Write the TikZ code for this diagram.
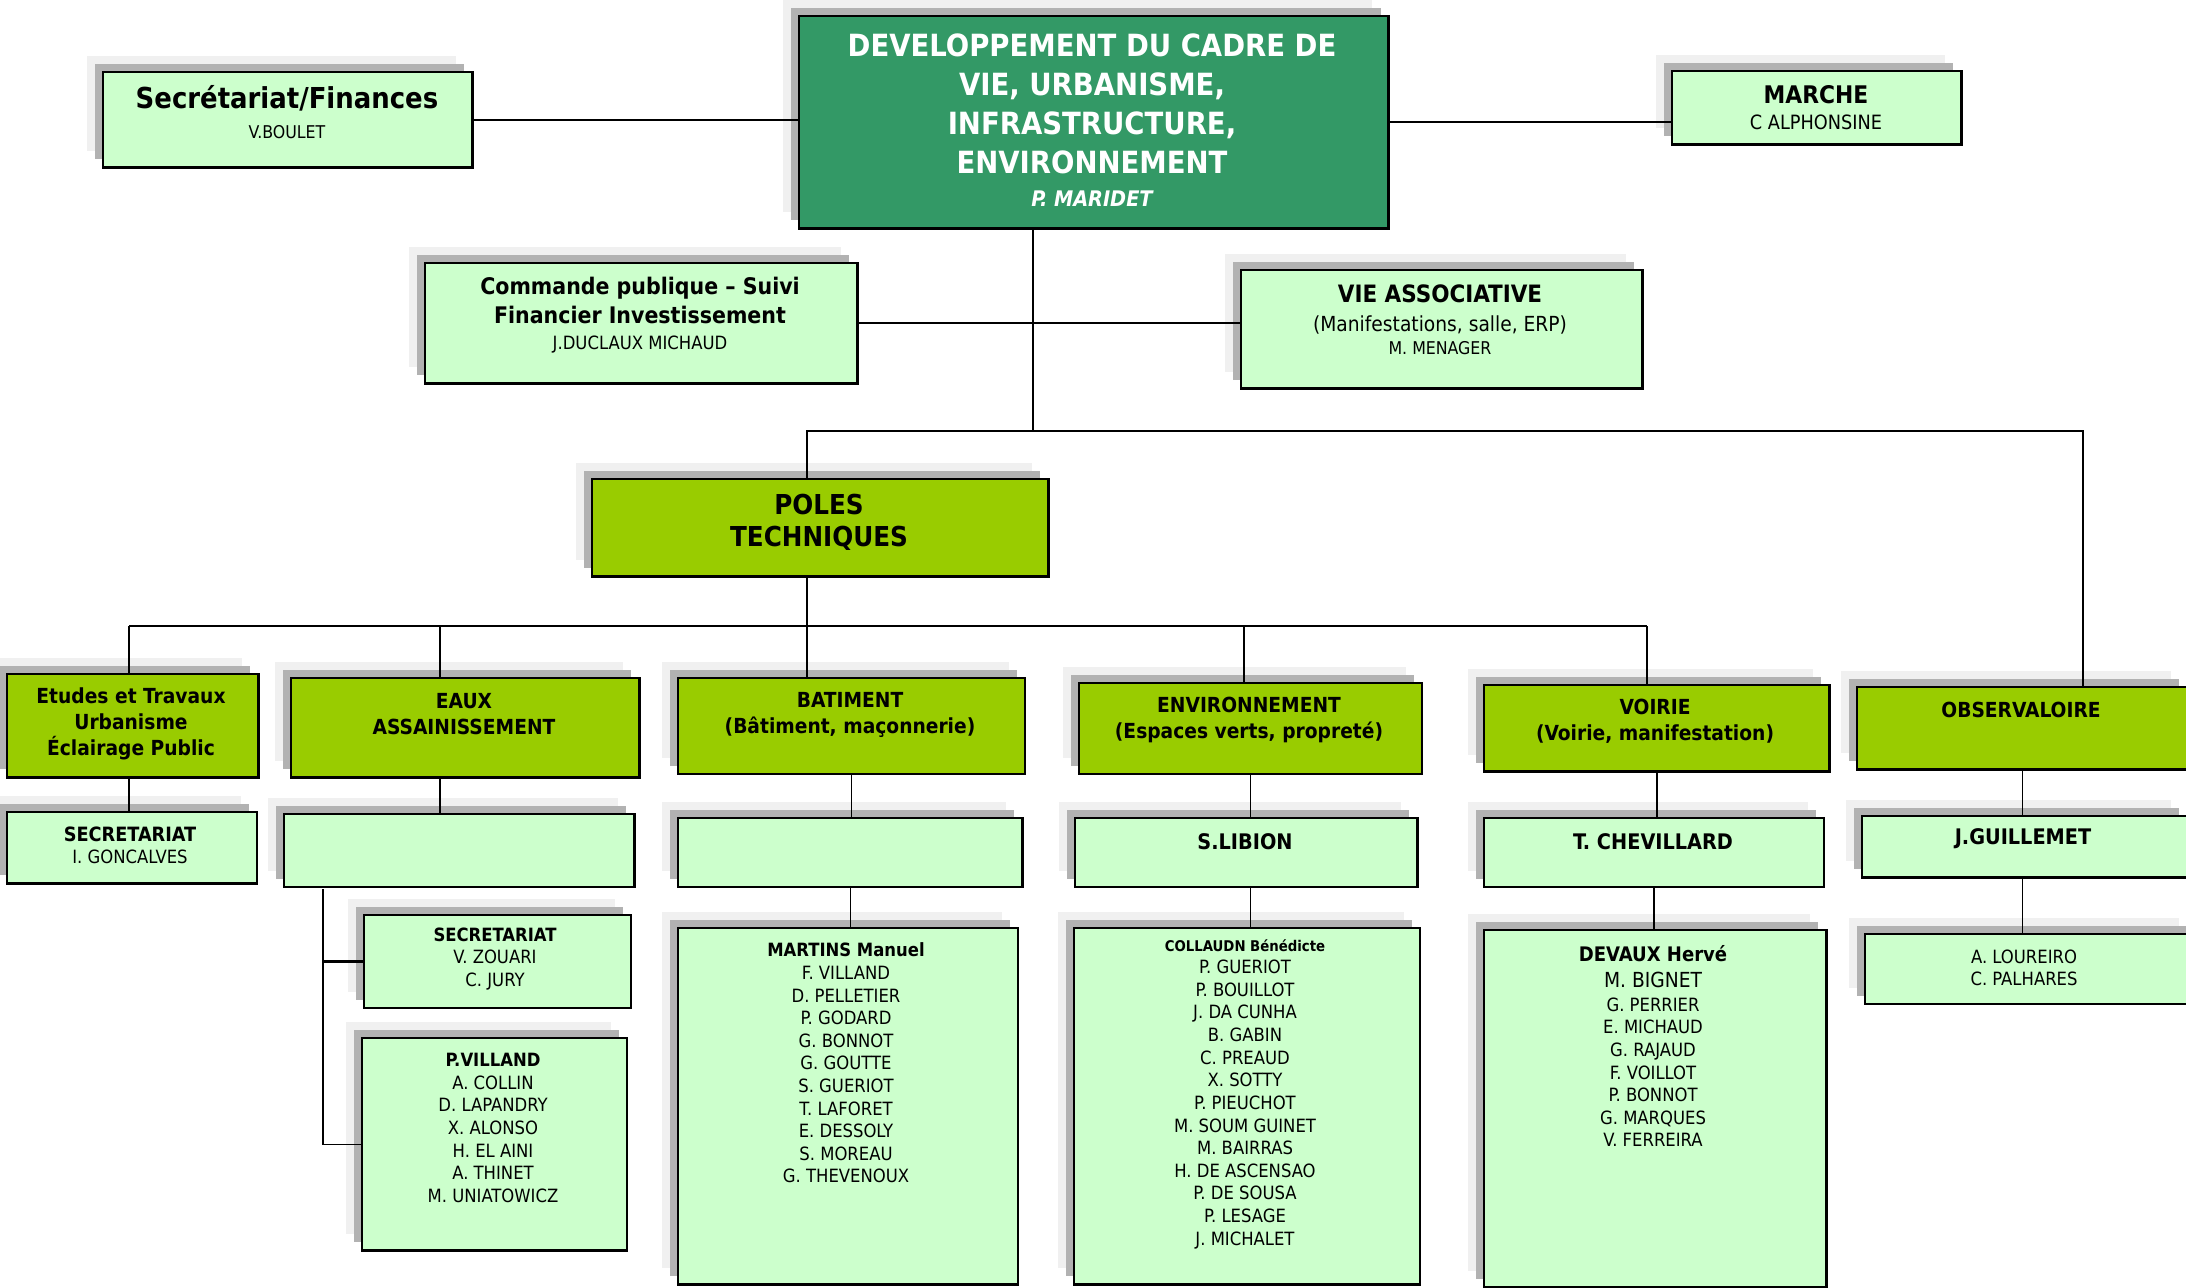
\documentclass[tikz,border=0pt]{standalone}
\usepackage{fontspec}
\setmainfont{DejaVu Sans Condensed}
\usetikzlibrary{shadows}
\definecolor{seagreen}{HTML}{339966}
\definecolor{polegreen}{HTML}{99CC00}
\definecolor{mintgreen}{HTML}{CCFFCC}
\definecolor{shadowgrey}{HTML}{B2B2B2}
\definecolor{hazegrey}{HTML}{F0F0F0}
\begin{document}
\begin{tikzpicture}[x=0.01cm,y=-0.01cm,
	box/.style={draw=black,line width=0.7pt,rectangle,inner sep=0pt,anchor=north west,
		general shadow={fill=hazegrey,shadow xshift=-4.6pt,shadow yshift=4.6pt},
		general shadow={fill=shadowgrey,shadow xshift=-2.3pt,shadow yshift=2.3pt}},
	head_box/.style={box,fill=seagreen},
	pole_box/.style={box,fill=polegreen},
	name_box/.style={box,fill=mintgreen},
	box_text/.style={align=center,inner sep=0pt,font=\fontsize{5.2}{6.43}\selectfont},
	pole_text/.style={box_text,font=\fontsize{5.9}{7.4}\selectfont\bfseries},
	link/.style={line width=0.45pt},
	bar/.style={line width=0.6pt}]
		
		\useasboundingbox (0,0) rectangle (2186,1287);
		
		% direction
		\node[head_box,minimum width=5.89cm,minimum height=2.12cm] (main) at (798,15) {};
		\node[name_box,minimum width=3.69cm,minimum height=0.95cm] (sec) at (102,71) {};
		\node[name_box,minimum width=2.89cm,minimum height=0.73cm] (marche) at (1671,70) {};
		\node[name_box,minimum width=4.32cm,minimum height=1.20cm] (cmd) at (424,262) {};
		\node[name_box,minimum width=4.01cm,minimum height=1.18cm] (vie) at (1240,269) {};
		\node[pole_box,minimum width=4.56cm,minimum height=0.97cm] (poles) at (591,478) {};
		
		\node[box_text,text=white,font=\fontsize{8.7}{11.1}\selectfont\bfseries] (main_t) at (1092,120)
			{DEVELOPPEMENT DU CADRE DE\\VIE, URBANISME,\\INFRASTRUCTURE,\\ENVIRONNEMENT\\[-1.7pt]{\fontsize{6.1}{7}\selectfont\itshape P. MARIDET}};
		\node[box_text,font=\fontsize{8.2}{8.4}\selectfont] (sec_t) at (287,112)
			{\textbf{Secrétariat/Finances}\\{\fontsize{5}{6}\selectfont V.BOULET}};
		\node[box_text,font=\fontsize{6.9}{7.4}\selectfont] (marche_t) at (1816,108)
			{\textbf{MARCHE}\\{\fontsize{5.6}{6}\selectfont C ALPHONSINE}};
		\node[box_text,font=\fontsize{6.5}{8.2}\selectfont] (cmd_t) at (640,315)
			{\textbf{Commande publique -- Suivi}\\\textbf{Financier Investissement}\\[-0.9pt]{\fontsize{5.2}{6}\selectfont J.DUCLAUX MICHAUD}};
		\node[box_text,font=\fontsize{6.8}{8}\selectfont] (vie_t) at (1440,320)
			{\textbf{VIE ASSOCIATIVE}\\{\fontsize{5.9}{6}\selectfont (Manifestations, salle, ERP)}\\[-1.3pt]{\fontsize{5}{6}\selectfont M. MENAGER}};
		\node[box_text,font=\fontsize{7.8}{9.2}\selectfont\bfseries] (poles_t) at (819,522) {POLES\\TECHNIQUES};
		
		% poles
		\node[pole_box,minimum width=2.51cm,minimum height=1.03cm] (etudes) at (6,673) {};
		\node[pole_box,minimum width=3.48cm,minimum height=0.99cm] (eaux) at (290,677) {};
		\node[pole_box,minimum width=3.465cm,minimum height=0.955cm] (bat) at (677,677) {};
		\node[pole_box,minimum width=3.425cm,minimum height=0.905cm] (env) at (1078,682) {};
		\node[pole_box,minimum width=3.45cm,minimum height=0.86cm] (voirie) at (1483,684) {};
		\node[pole_box,minimum width=3.30cm,minimum height=0.82cm] (obs) at (1856,686) {};
		
		\node[pole_text] (etudes_t) at (131,724) {Etudes et Travaux\\Urbanisme\\Éclairage Public};
		\node[pole_text] (eaux_t) at (464,714.5) {EAUX\\ASSAINISSEMENT};
		\node[pole_text] (bat_t) at (850,714.5) {BATIMENT\\(Bâtiment, maçonnerie)};
		\node[pole_text] (env_t) at (1249,720) {ENVIRONNEMENT\\(Espaces verts, propreté)};
		\node[pole_text] (voirie_t) at (1655,721.5) {VOIRIE\\(Voirie, manifestation)};
		\node[pole_text] (obs_t) at (2021,710) {OBSERVALOIRE};
		
		% responsables
		\node[name_box,minimum width=2.495cm,minimum height=0.71cm] (secg) at (6,811) {};
		\node[name_box,minimum width=3.50cm,minimum height=0.725cm] (eauxsub) at (283,813) {};
		\node[name_box,minimum width=3.44cm,minimum height=0.685cm] (batsub) at (677,817) {};
		\node[name_box,minimum width=3.42cm,minimum height=0.685cm] (libion) at (1074,817) {};
		\node[name_box,minimum width=3.395cm,minimum height=0.685cm] (chev) at (1483,817) {};
		\node[name_box,minimum width=3.25cm,minimum height=0.61cm] (guil) at (1861,815) {};
		
		\node[box_text,font=\fontsize{5.2}{6.4}\selectfont] (secg_t) at (130,845.5)
			{{\fontsize{5.6}{6}\selectfont\bfseries SECRETARIAT}\\I. GONCALVES};
		\node[box_text,font=\fontsize{6.1}{7}\selectfont\bfseries] (libion_t) at (1245,841.7) {S.LIBION};
		\node[box_text,font=\fontsize{6.1}{7}\selectfont\bfseries] (chev_t) at (1653,841.7) {T. CHEVILLARD};
		\node[box_text,font=\fontsize{6.1}{7}\selectfont\bfseries] (guil_t) at (2023,839) {J.GUILLEMET};
		
		% equipes
		\node[name_box,minimum width=2.665cm,minimum height=0.925cm] (seceaux) at (363,914) {};
		\node[name_box,minimum width=2.645cm,minimum height=2.12cm] (pvil) at (361,1037) {};
		\node[name_box,minimum width=3.395cm,minimum height=3.56cm] (martins) at (677,927) {};
		\node[name_box,minimum width=3.455cm,minimum height=3.56cm] (collaudn) at (1073,927) {};
		\node[name_box,minimum width=3.42cm,minimum height=3.565cm] (devaux) at (1483,929) {};
		\node[name_box,minimum width=3.30cm,minimum height=0.695cm] (loureiro) at (1864,933) {};
		
		\node[box_text] (seceaux_t) at (495,959) {\textbf{SECRETARIAT}\\V. ZOUARI\\C. JURY};
		\node[box_text] (pvil_t) at (493,1128)
			{\textbf{P.VILLAND}\\A. COLLIN\\D. LAPANDRY\\X. ALONSO\\H. EL AINI\\A. THINET\\M. UNIATOWICZ};
		\node[box_text] (martins_t) at (846,1063)
			{\textbf{MARTINS Manuel}\\F. VILLAND\\D. PELLETIER\\P. GODARD\\G. BONNOT\\G. GOUTTE\\S. GUERIOT\\T. LAFORET\\E. DESSOLY\\S. MOREAU\\G. THEVENOUX};
		\node[box_text] (collaudn_t) at (1245,1094)
			{{\fontsize{4.2}{5}\selectfont\bfseries COLLAUDN Bénédicte}\\P. GUERIOT\\P. BOUILLOT\\J. DA CUNHA\\B. GABIN\\C. PREAUD\\X. SOTTY\\P. PIEUCHOT\\M. SOUM GUINET\\M. BAIRRAS\\H. DE ASCENSAO\\P. DE SOUSA\\P. LESAGE\\J. MICHALET};
		\node[box_text] (devaux_t) at (1653,1046)
			{{\fontsize{5.7}{6}\selectfont\bfseries DEVAUX Hervé}\\[1pt]{\fontsize{5.9}{6}\selectfont M. BIGNET}\\[0.4pt]G. PERRIER\\E. MICHAUD\\G. RAJAUD\\F. VOILLOT\\P. BONNOT\\G. MARQUES\\V. FERREIRA};
		\node[box_text] (loureiro_t) at (2024,968) {A. LOUREIRO\\C. PALHARES};
		
		% liaisons
		\coordinate (trunk) at (1033,227);
		\coordinate (hub) at (1033,431);
		\coordinate (poles-in) at (807,478);
		\coordinate (obs-in) at (2083,686);
		\coordinate (rail) at (807,626);
		\coordinate (etudes-in) at (129,673);
		\coordinate (eaux-in) at (440,677);
		\coordinate (bat-in) at (807,677);
		\coordinate (env-in) at (1244,682);
		\coordinate (voirie-in) at (1647,684);
		\coordinate (spine) at (323,889);
		
		\draw[bar] (sec.east) -- (sec.east -| main.west);
		\draw[bar] (main.east) -- (main.east -| marche.west);
		\draw[link] (trunk) -- (hub);
		\draw[link] (cmd.east) -- (cmd.east -| vie.west);
		\draw[bar] (poles-in) |- (hub) -| (obs-in);
		\draw[link] (poles-in |- poles.south) -- (rail);
		\draw[bar] (rail -| etudes-in) -- (rail -| voirie-in);
		\foreach \b in {etudes,eaux,bat,env,voirie}
			\draw[link] (rail -| \b-in) -- (\b-in);
		
		\draw[link] (etudes-in |- etudes.south) -- (etudes-in |- secg.north);
		\draw[link] (eaux-in |- eaux.south) -- (eaux-in |- eauxsub.north);
		\draw[link] (bat.south) -- (bat.south |- batsub.north);
		\draw[link] (env.south) -- (env.south |- libion.north);
		\draw[link] (voirie.south) -- (voirie.south |- chev.north);
		\draw[link] (obs.south) -- (obs.south |- guil.north);
		
		\draw[link] (spine) |- (pvil.west);
		\draw[bar] (spine |- seceaux.west) -- (seceaux.west);
		\draw[link] (batsub.south) -- (batsub.south |- martins.north);
		\draw[link] (env.south |- libion.south) -- (env.south |- collaudn.north);
		\draw[link] (chev.south) -- (chev.south |- devaux.north);
		\draw[link] (obs.south |- guil.south) -- (obs.south |- loureiro.north);
		\end{tikzpicture}
\end{document}
